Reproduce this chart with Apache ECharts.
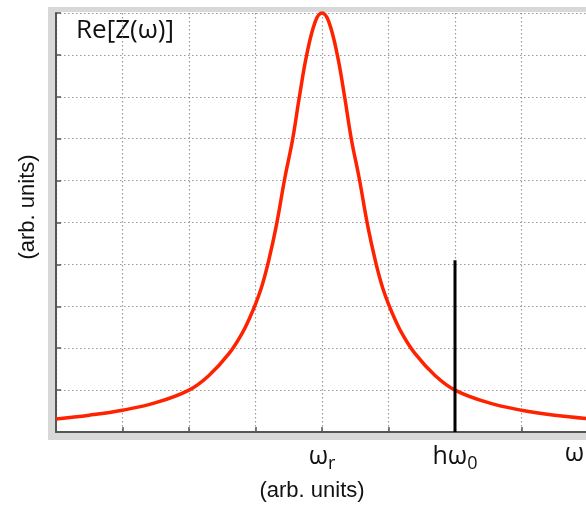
<!DOCTYPE html>
<html>
<head>
<meta charset="utf-8">
<script src="https://cdn.jsdelivr.net/npm/echarts@6/dist/echarts.min.js"></script>
<style>html,body{margin:0;padding:0;background:#fff}#c{width:586px;height:506px}</style>
</head>
<body>
<div id="c"></div>
<script>
// Data
var curveX = [0, 0.5, 1, 1.5, 2, 2.3, 2.6, 2.8, 2.9, 3.0, 3.1, 3.2, 3.31, 3.44, 3.56, 3.66, 3.77, 3.9, 4.0, 4.1, 4.23, 4.34, 4.44, 4.56, 4.69, 4.8, 4.9, 5.0, 5.1, 5.2, 5.4, 5.7, 6.0, 6.5, 7.0, 7.5, 8.0];
var curveY = [0.31, 0.40, 0.52, 0.70, 1.0, 1.35, 1.87, 2.36, 2.68, 3.05, 3.5, 4.1, 4.9, 6.05, 7.0, 8.0, 9.0, 9.8, 10.0, 9.8, 9.0, 8.0, 7.0, 6.05, 4.9, 4.1, 3.5, 3.05, 2.68, 2.36, 1.87, 1.35, 1.0, 0.70, 0.52, 0.40, 0.32];
var markerX = [6, 6];
var markerY = [0, 4.1];
var tickLabels = {4: '{w|ω}{s|r}', 6: '{w|hω}{s|0}', 8: '{e|ω}'};
var titleText = 'Re[Z(ω)]';
var axisNameText = '(arb. units)';

function zip(a, b) { return a.map(function (v, i) { return [v, b[i]]; }); }

var FONT = 'Open Sans';
var chart = echarts.init(document.getElementById('c'), null, {renderer: 'canvas'});
chart.setOption({
  animation: false,
  backgroundColor: '#fff',
  textStyle: {fontFamily: FONT},
  graphic: [
    {type: 'rect', z: -10, shape: {x: 48, y: 7, width: 600, height: 433}, style: {fill: '#d8d8d8'}},
    {type: 'rect', z: -9, shape: {x: 56, y: 12, width: 600, height: 420}, style: {fill: '#ffffff'}},
    {type: 'text', left: 76, top: 18, style: {text: titleText, font: '26px "Open Sans"', fill: '#111'}},
    {type: 'text', x: 28, y: 207, rotation: Math.PI / 2, style: {text: axisNameText, font: '22px "Liberation Sans"', fill: '#111', align: 'center', verticalAlign: 'middle'}},
    {type: 'text', x: 312, y: 491, style: {text: axisNameText, font: '22px "Liberation Sans"', fill: '#111', align: 'center', verticalAlign: 'middle'}}
  ],
  grid: {left: 56, top: 13, right: -2, bottom: 74, containLabel: false, outerBoundsMode: 'none'},
  xAxis: {
    type: 'value', min: 0, max: 8, interval: 1,
    axisLine: {show: true, lineStyle: {color: '#555', width: 2}},
    axisTick: {show: true, inside: true, length: 5, lineStyle: {color: '#555', width: 1.5}},
    splitLine: {show: true, lineStyle: {color: '#999', type: [1.5, 2.5], width: 1.2}},
    axisLabel: {
      margin: 9, alignMaxLabel: 'right', color: '#111',
      formatter: function (v) { return tickLabels[v] || ''; },
      rich: {
        w: {fontSize: 25, fontFamily: FONT, color: '#111'},
        e: {fontSize: 25, fontFamily: FONT, color: '#111', padding: [0, 4, 0, 0]},
        s: {fontSize: 18, fontFamily: FONT, color: '#111', padding: [14, 0, 0, 0]}
      }
    }
  },
  yAxis: {
    type: 'value', min: 0, max: 10, interval: 1,
    axisLine: {show: true, lineStyle: {color: '#555', width: 2}},
    axisTick: {show: true, inside: true, length: 5, lineStyle: {color: '#555', width: 1.5}},
    splitLine: {show: true, lineStyle: {color: '#999', type: [1.5, 2.5], width: 1.2}},
    axisLabel: {show: false}
  },
  series: [
    {type: 'line', data: zip(curveX, curveY), showSymbol: false, smooth: 0.4, clip: false,
     lineStyle: {color: '#ff2200', width: 3.5}, z: 3},
    {type: 'line', data: zip(markerX, markerY), showSymbol: false,
     lineStyle: {color: '#000', width: 3}, z: 4}
  ]
});
</script>
</body>
</html>
